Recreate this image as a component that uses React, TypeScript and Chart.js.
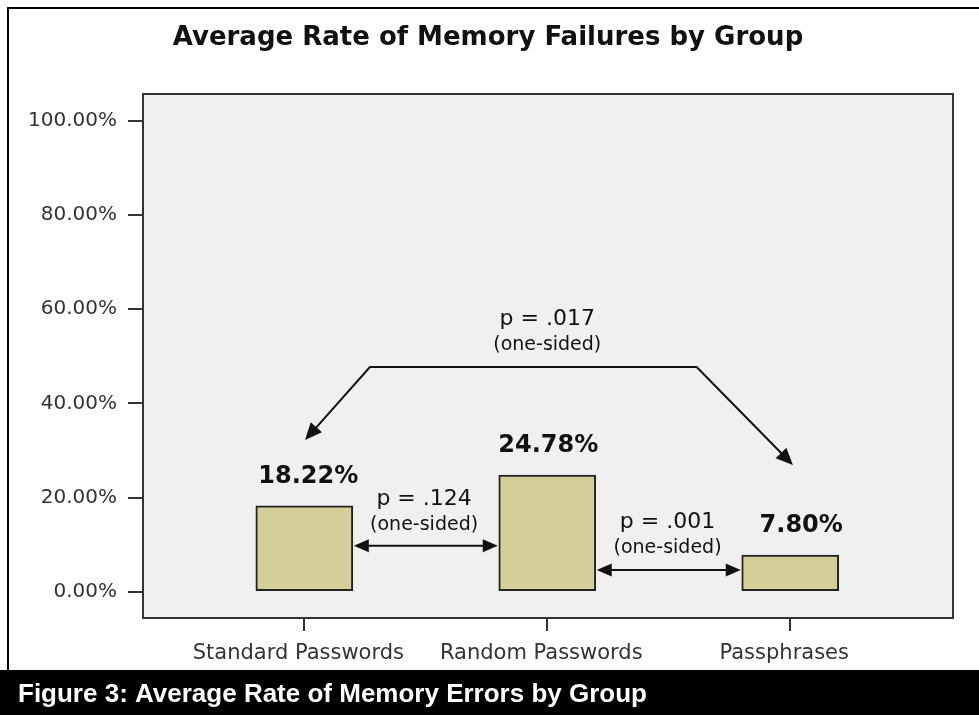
import { useEffect, useRef } from "react";
import { Chart, registerables } from "chart.js";

Chart.register(...registerables);

const categories = ["Standard Passwords", "Random Passwords", "Passphrases"];
const failureRates = [18.22, 24.78, 7.8];
const valueLabels = ["18.22%", "24.78%", "7.80%"];
const yTickValues = [0, 20, 40, 60, 80, 100];
const pairLabels = ["p = .124", "p = .001"];
const overallLabel = "p = .017";
const sideNote = "(one-sided)";
const chartTitle = "Average Rate of Memory Failures by Group";
const figureCaption = "Figure 3: Average Rate of Memory Errors by Group";

const W = 979;
const H = 715;
const FONT = '"DejaVu Sans", sans-serif';

function arrowHead(ctx: CanvasRenderingContext2D, tx: number, ty: number, fx: number, fy: number, len: number, half: number) {
  const ang = Math.atan2(ty - fy, tx - fx);
  const c = Math.cos(ang);
  const s = Math.sin(ang);
  ctx.beginPath();
  ctx.moveTo(tx, ty);
  ctx.lineTo(tx - len * c + half * s, ty - len * s - half * c);
  ctx.lineTo(tx - len * c - half * s, ty - len * s + half * c);
  ctx.closePath();
  ctx.fill();
}

const decorPlugin = {
  id: "decor",
  beforeDraw(chart: any) {
    const { ctx, chartArea: a } = chart;
    ctx.save();
    ctx.fillStyle = "#ffffff";
    ctx.fillRect(0, 0, W, H);
    ctx.fillStyle = "#f0f0f0";
    ctx.fillRect(a.left, a.top, a.right - a.left, a.bottom - a.top);
    ctx.restore();
  },
  afterDraw(chart: any) {
    const { ctx, chartArea: a } = chart;
    const xs = chart.scales.x;
    const ys = chart.scales.y;
    const bars = chart.getDatasetMeta(0).data as any[];
    ctx.save();

    // plot frame
    ctx.strokeStyle = "#333333";
    ctx.lineWidth = 2;
    ctx.strokeRect(a.left, a.top, a.right - a.left, a.bottom - a.top);

    // outer border
    ctx.fillStyle = "#000000";
    ctx.fillRect(7, 7, W - 7, 2);
    ctx.fillRect(7, 7, 2, 670 - 7);

    // caption band
    ctx.fillRect(0, 670, W, H - 670);
    ctx.fillStyle = "#ffffff";
    ctx.font = 'bold 26px "Liberation Sans", Arial, sans-serif';
    ctx.textAlign = "left";
    ctx.textBaseline = "alphabetic";
    ctx.fillText(figureCaption, 18, 702);

    // title
    ctx.fillStyle = "#111111";
    ctx.font = `bold 26px ${FONT}`;
    ctx.textAlign = "center";
    ctx.fillText(chartTitle, 488, 45);

    // value labels
    const dx = [4, 1, 11];
    ctx.font = `bold 24px ${FONT}`;
    bars.forEach((b, i) => {
      ctx.fillText(valueLabels[i], b.x + dx[i], b.y - 23);
    });

    // pairwise arrows
    ctx.strokeStyle = "#111111";
    ctx.fillStyle = "#111111";
    ctx.lineWidth = 2;
    const pairY = [9.77, 4.6];
    const pairTextX = [0.493, 1.495];
    const pairTextY = [18.4, 13.5];
    const noteTextY = [13.2, 8.2];
    for (let i = 0; i < 2; i++) {
      const b0 = bars[i];
      const b1 = bars[i + 1];
      const x0 = b0.x + b0.width / 2 + 1;
      const x1 = b1.x - b1.width / 2 - 1;
      const yy = ys.getPixelForValue(pairY[i]);
      const len = 15;
      ctx.beginPath();
      ctx.moveTo(x0 + len - 1, yy);
      ctx.lineTo(x1 - len + 1, yy);
      ctx.stroke();
      arrowHead(ctx, x0, yy, x1, yy, len, 6.5);
      arrowHead(ctx, x1, yy, x0, yy, len, 6.5);
      ctx.font = `22px ${FONT}`;
      ctx.fillText(pairLabels[i], xs.getPixelForValue(pairTextX[i]), ys.getPixelForValue(pairTextY[i]));
      ctx.font = `19px ${FONT}`;
      ctx.fillText(sideNote, xs.getPixelForValue(pairTextX[i]), ys.getPixelForValue(noteTextY[i]));
    }

    // overall bent arrow
    const p1 = [xs.getPixelForValue(0.003), ys.getPixelForValue(32.2)];
    const p2 = [xs.getPixelForValue(0.27), ys.getPixelForValue(47.7)];
    const p3 = [xs.getPixelForValue(1.615), ys.getPixelForValue(47.7)];
    const p4 = [xs.getPixelForValue(2.011), ys.getPixelForValue(26.9)];
    const hl = 17;
    const a1 = Math.atan2(p1[1] - p2[1], p1[0] - p2[0]);
    const a4 = Math.atan2(p4[1] - p3[1], p4[0] - p3[0]);
    ctx.beginPath();
    ctx.moveTo(p1[0] - (hl - 2) * Math.cos(a1), p1[1] - (hl - 2) * Math.sin(a1));
    ctx.lineTo(p2[0], p2[1]);
    ctx.lineTo(p3[0], p3[1]);
    ctx.lineTo(p4[0] - (hl - 2) * Math.cos(a4), p4[1] - (hl - 2) * Math.sin(a4));
    ctx.stroke();
    arrowHead(ctx, p1[0], p1[1], p2[0], p2[1], hl, 7.5);
    arrowHead(ctx, p4[0], p4[1], p3[0], p3[1], hl, 7.5);
    ctx.font = `22px ${FONT}`;
    ctx.fillText(overallLabel, xs.getPixelForValue(1), ys.getPixelForValue(56.6));
    ctx.font = `19px ${FONT}`;
    ctx.fillText(sideNote, xs.getPixelForValue(1), ys.getPixelForValue(51.3));

    ctx.restore();
  },
};

export default function App() {
  const ref = useRef<HTMLCanvasElement | null>(null);
  useEffect(() => {
    document.body.style.margin = "0";
    const canvas = ref.current;
    if (!canvas) return;
    const chart = new Chart(canvas, {
      type: "bar",
      data: {
        datasets: [
          {
            data: failureRates.map((v, i) => ({ x: i, y: v })),
            backgroundColor: "#d4cf99",
            borderColor: "#222222",
            borderWidth: 2,
            borderSkipped: false,
            barThickness: 97,
          },
        ],
      },
      options: {
        responsive: false,
        maintainAspectRatio: false,
        animation: false,
        devicePixelRatio: 1,
        layout: { padding: { top: 94, right: 26, left: 0, bottom: 0 } },
        plugins: {
          legend: { display: false },
          title: { display: false },
          tooltip: { enabled: false },
        },
        scales: {
          x: {
            type: "linear",
            min: -0.664,
            max: 2.67,
            offset: false,
            afterFit: (s: any) => {
              s.height = 97;
            },
            afterBuildTicks: (s: any) => {
              s.ticks = categories.map((_, i) => ({ value: i }));
            },
            grid: {
              offset: false,
              drawOnChartArea: false,
              drawTicks: true,
              tickLength: 13,
              color: "#333333",
              lineWidth: 2,
            },
            border: { display: false },
            ticks: {
              callback: (v: any) => categories[v] ?? "",
              color: "#333333",
              font: { family: FONT, size: 21 },
              padding: 10,
              labelOffset: -6,
              maxRotation: 0,
              autoSkip: false,
            },
          },
          y: {
            type: "linear",
            min: -5.58,
            max: 105.67,
            afterFit: (s: any) => {
              s.width = 143;
            },
            afterBuildTicks: (s: any) => {
              s.ticks = yTickValues.map((v) => ({ value: v }));
            },
            grid: {
              drawOnChartArea: false,
              drawTicks: true,
              tickLength: 15,
              color: "#333333",
              lineWidth: 2,
            },
            border: { display: false },
            ticks: {
              callback: (v: any) => Number(v).toFixed(2) + "%",
              color: "#333333",
              font: { family: FONT, size: 20 },
              padding: 11,
            },
          },
        },
      },
      plugins: [decorPlugin],
    } as any);
    return () => chart.destroy();
  }, []);
  return <canvas ref={ref} width={W} height={H} style={{ display: "block", width: W, height: H }} />;
}
